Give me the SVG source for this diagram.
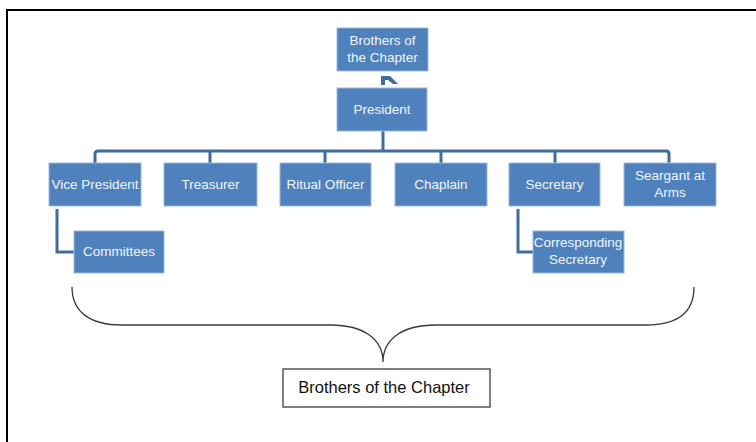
<svg xmlns="http://www.w3.org/2000/svg" width="756" height="442" viewBox="0 0 756 442">
<style>
.box{fill:#4f81bd;stroke:#9db7da;stroke-width:1}
.t{font-family:"Liberation Sans",Arial,sans-serif;font-size:13.5px;fill:#f2f5fb;text-anchor:middle}
.c{fill:none;stroke:#416c9e;stroke-width:3}
</style>
<rect width="756" height="442" fill="#fff"/>
<path d="M7,442 V10 H756" fill="none" stroke="#000" stroke-width="2"/>
<g id="connectors">
<path class="c" d="M383,131 V150"/>
<path class="c" d="M95,163 V154 Q95,151 98,151 H666 Q669,151 669,154 V163"/>
<path class="c" d="M210,151 V163 M325,151 V163 M441,151 V163 M555,151 V163"/>
<path class="c" d="M57,209 V252 H74"/>
<path class="c" d="M518,209 V252 H533"/>
<path d="M381,85 V76 H390 L398,84 H393 L388,80 H385 V85 Z" fill="#416c9e"/>
</g>
<g id="n-brothers-top"><rect class="box" x="337" y="28" width="91" height="43"/><text class="t" x="382.5" y="45">Brothers of</text><text class="t" x="382.5" y="62">the Chapter</text></g>
<g id="n-president"><rect class="box" x="337" y="88" width="90" height="43"/><text class="t" x="382" y="114">President</text></g>
<g id="n-vp"><rect class="box" x="49" y="163" width="92" height="43"/><text class="t" x="95" y="189">Vice President</text></g>
<g id="n-treasurer"><rect class="box" x="164" y="163" width="93" height="43"/><text class="t" x="210.5" y="189">Treasurer</text></g>
<g id="n-ritual"><rect class="box" x="280" y="163" width="91" height="43"/><text class="t" x="325.5" y="189">Ritual Officer</text></g>
<g id="n-chaplain"><rect class="box" x="395" y="163" width="92" height="43"/><text class="t" x="441" y="189">Chaplain</text></g>
<g id="n-secretary"><rect class="box" x="509" y="163" width="91" height="43"/><text class="t" x="554.5" y="189">Secretary</text></g>
<g id="n-seargant"><rect class="box" x="624" y="163" width="92" height="43"/><text class="t" x="670" y="180">Seargant at</text><text class="t" x="670" y="197">Arms</text></g>
<g id="n-committees"><rect class="box" x="74" y="231" width="90" height="42"/><text class="t" x="119" y="256">Committees</text></g>
<g id="n-corr"><rect class="box" x="533" y="231" width="91" height="42"/><text class="t" x="578" y="247">Corresponding</text><text class="t" x="578" y="264">Secretary</text></g>
<path d="M72,287 C72,312 90,325 122,325 H330 C365,325 383,340 383,362 C383,340 401,325 436,325 H646 C678,325 694,312 694,287" fill="none" stroke="#3a3a3a" stroke-width="1.3"/>
<g id="n-brothers-bottom"><rect x="283" y="369" width="207" height="38" fill="#fff" stroke="#555" stroke-width="1.5"/><text x="384" y="393" font-family="Liberation Sans,Arial,sans-serif" font-size="16.5" fill="#111" text-anchor="middle">Brothers of the Chapter</text></g>
</svg>
